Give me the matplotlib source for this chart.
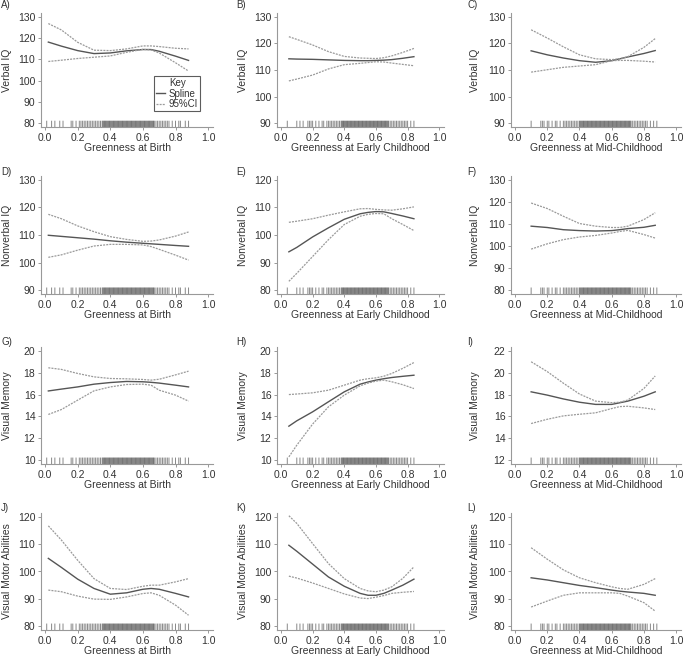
import numpy as np
import matplotlib.pyplot as plt

plt.rcParams['font.family'] = ['Liberation Sans', 'DejaVu Sans']

# greenness grids (one per exposure window)
x_birth = [0.02, 0.1, 0.2, 0.3, 0.4, 0.5, 0.6, 0.65, 0.7, 0.8, 0.88]
x_early = [0.05, 0.1, 0.2, 0.3, 0.4, 0.5, 0.55, 0.6, 0.65, 0.7, 0.77, 0.84]
x_mid = [0.1, 0.2, 0.3, 0.4, 0.5, 0.6, 0.65, 0.7, 0.8, 0.87]

# A) Verbal IQ - birth
a_fit = [118.1, 116.2, 114.1, 112.7, 113.0, 114.0, 114.6, 114.6, 113.8, 111.5, 109.5]
a_hi = [126.8, 123.8, 118.0, 114.3, 114.1, 114.9, 116.3, 116.3, 116.0, 115.2, 114.9]
a_lo = [109.0, 109.6, 110.4, 111.0, 111.6, 113.3, 114.7, 114.4, 113.0, 108.4, 104.5]
# B) Verbal IQ - early childhood
b_fit = [114.2, 114.1, 114.0, 113.8, 113.6, 113.5, 113.5, 113.6, 113.7, 113.9, 114.4, 115.0]
b_hi = [122.5, 121.5, 119.4, 116.9, 115.1, 114.5, 114.4, 114.3, 114.6, 115.3, 116.6, 118.1]
b_lo = [105.9, 106.6, 108.1, 110.4, 112.0, 112.5, 112.8, 113.1, 113.0, 112.6, 112.1, 111.6]
# C) Verbal IQ - mid-childhood
c_fit = [117.2, 115.7, 114.5, 113.5, 112.9, 113.5, 114.2, 114.9, 116.2, 117.3]
c_hi = [125.1, 122.0, 118.7, 115.7, 114.2, 113.9, 114.2, 115.0, 118.5, 121.8]
c_lo = [109.2, 110.1, 111.0, 111.5, 112.0, 113.5, 113.6, 113.6, 113.3, 113.0]
# D) Nonverbal IQ - birth
d_fit = [109.9, 109.5, 109.0, 108.5, 107.9, 107.4, 107.0, 106.8, 106.6, 106.2, 105.9]
d_hi = [117.5, 115.9, 113.3, 111.2, 109.4, 108.4, 107.7, 107.8, 108.2, 109.6, 111.1]
d_lo = [101.9, 102.8, 104.5, 106.0, 106.6, 106.6, 106.4, 105.8, 104.8, 102.7, 100.9]
# E) Nonverbal IQ - early childhood
e_fit = [93.9, 95.5, 99.3, 102.6, 105.7, 107.7, 108.2, 108.5, 108.4, 107.8, 106.9, 105.9]
e_hi = [104.6, 105.0, 105.9, 107.2, 108.4, 109.5, 109.6, 109.3, 109.1, 109.0, 109.5, 110.2]
e_lo = [83.2, 86.1, 92.2, 98.3, 103.8, 106.8, 107.5, 107.8, 107.7, 105.9, 103.8, 101.6]
# F) Nonverbal IQ - mid-childhood
f_fit = [109.0, 108.4, 107.4, 107.0, 106.8, 107.0, 107.4, 107.9, 108.5, 109.4]
f_hi = [119.5, 117.0, 113.5, 110.2, 109.0, 108.4, 108.4, 109.0, 112.0, 115.1]
f_lo = [98.6, 101.0, 102.9, 104.1, 104.8, 105.9, 106.6, 107.1, 105.2, 103.6]
# G) Visual memory - birth
g_fit = [16.33, 16.5, 16.7, 16.95, 17.1, 17.2, 17.17, 17.12, 17.05, 16.86, 16.7]
g_hi = [18.45, 18.3, 17.93, 17.62, 17.47, 17.44, 17.38, 17.32, 17.4, 17.8, 18.14]
g_lo = [14.18, 14.63, 15.49, 16.34, 16.7, 16.92, 16.95, 16.86, 16.4, 15.95, 15.4]
# H) Visual memory - early childhood
h_fit = [13.11, 13.6, 14.42, 15.34, 16.25, 16.95, 17.15, 17.32, 17.45, 17.56, 17.67, 17.77]
h_hi = [16.0, 16.05, 16.16, 16.4, 16.86, 17.32, 17.45, 17.53, 17.68, 17.93, 18.4, 18.93]
h_lo = [10.3, 11.37, 13.3, 14.88, 15.95, 16.8, 17.05, 17.23, 17.32, 17.17, 16.9, 16.55]
# I) Visual memory - mid-childhood
i_fit = [18.25, 17.95, 17.6, 17.3, 17.1, 17.1, 17.25, 17.4, 17.85, 18.25]
i_hi = [21.0, 20.1, 19.04, 18.05, 17.4, 17.26, 17.3, 17.5, 18.56, 19.7]
i_lo = [15.35, 15.74, 16.05, 16.2, 16.33, 16.72, 16.9, 16.93, 16.78, 16.63]
# J) Visual motor - birth
j_fit = [104.8, 101.5, 97.2, 93.8, 91.7, 92.2, 93.5, 93.8, 93.5, 92.0, 90.7]
j_hi = [116.7, 111.5, 104.1, 97.4, 93.8, 93.4, 94.6, 95.0, 95.0, 96.2, 97.4]
j_lo = [93.2, 92.6, 91.0, 89.9, 89.8, 90.7, 91.95, 92.2, 91.3, 87.7, 84.0]
# K) Visual motor - early childhood
k_fit = [109.6, 107.4, 102.7, 98.0, 94.6, 92.0, 91.3, 91.3, 92.0, 93.2, 95.0, 97.2]
k_hi = [120.4, 117.6, 110.2, 102.9, 97.4, 93.8, 92.9, 92.6, 93.2, 94.4, 97.5, 101.7]
k_lo = [98.3, 97.6, 95.8, 93.8, 91.8, 90.3, 90.1, 90.6, 91.2, 92.0, 92.4, 92.7]
# L) Visual motor - mid-childhood
l_fit = [97.7, 96.9, 95.9, 94.9, 94.1, 93.2, 92.8, 92.5, 92.0, 91.3]
l_hi = [108.7, 104.5, 100.6, 97.7, 95.9, 94.4, 93.8, 93.5, 95.3, 97.4]
l_lo = [87.0, 89.2, 91.3, 92.2, 92.2, 92.2, 92.0, 91.0, 88.6, 85.5]

# observed greenness (rug)
birth_rug = [0.01, 0.04, 0.06, 0.09, 0.11, 0.16, 0.17, 0.19, 0.21, 0.22, 0.23,
             0.24, 0.25, 0.26, 0.27, 0.28, 0.29, 0.30, 0.31, 0.32, 0.33, 0.34,
             0.35, 0.355, 0.36, 0.365, 0.37, 0.375, 0.38, 0.385, 0.39, 0.395,
             0.40, 0.405, 0.41, 0.415, 0.42, 0.425, 0.43, 0.435, 0.44, 0.445,
             0.45, 0.455, 0.46, 0.465, 0.47, 0.475, 0.48, 0.485, 0.49, 0.495,
             0.50, 0.505, 0.51, 0.515, 0.52, 0.525, 0.53, 0.535, 0.54, 0.545,
             0.55, 0.555, 0.56, 0.565, 0.57, 0.575, 0.58, 0.585, 0.59, 0.595,
             0.60, 0.605, 0.61, 0.615, 0.62, 0.625, 0.63, 0.635, 0.64, 0.645,
             0.65, 0.655, 0.66, 0.665, 0.67, 0.68, 0.69, 0.70, 0.71, 0.72,
             0.73, 0.74, 0.75, 0.76, 0.78, 0.80, 0.82, 0.83, 0.86, 0.88]
early_rug = [0.04, 0.10, 0.12, 0.14, 0.17, 0.18, 0.19, 0.20, 0.22, 0.24, 0.26,
             0.27, 0.29, 0.30, 0.31, 0.32, 0.33, 0.34, 0.35, 0.36, 0.37,
             0.38, 0.385, 0.39, 0.395, 0.40, 0.405, 0.41, 0.415, 0.42, 0.425,
             0.43, 0.435, 0.44, 0.445, 0.45, 0.455, 0.46, 0.465, 0.47, 0.475,
             0.48, 0.485, 0.49, 0.495, 0.50, 0.505, 0.51, 0.515, 0.52, 0.525,
             0.53, 0.535, 0.54, 0.545, 0.55, 0.555, 0.56, 0.565, 0.57, 0.575,
             0.58, 0.585, 0.59, 0.595, 0.60, 0.605, 0.61, 0.615, 0.62, 0.625,
             0.63, 0.635, 0.64, 0.645, 0.65, 0.655, 0.66, 0.665, 0.67, 0.675,
             0.68, 0.69, 0.70, 0.71, 0.72, 0.73, 0.74, 0.75, 0.76, 0.77,
             0.78, 0.79, 0.80, 0.82, 0.84]
mid_rug = [0.10, 0.16, 0.17, 0.18, 0.20, 0.21, 0.23, 0.25, 0.26, 0.28, 0.30,
           0.31, 0.32, 0.33, 0.34, 0.35, 0.36, 0.37, 0.38, 0.39,
           0.40, 0.405, 0.41, 0.415, 0.42, 0.425, 0.43, 0.435, 0.44, 0.445,
           0.45, 0.455, 0.46, 0.465, 0.47, 0.475, 0.48, 0.485, 0.49, 0.495,
           0.50, 0.505, 0.51, 0.515, 0.52, 0.525, 0.53, 0.535, 0.54, 0.545,
           0.55, 0.555, 0.56, 0.565, 0.57, 0.575, 0.58, 0.585, 0.59, 0.595,
           0.60, 0.605, 0.61, 0.615, 0.62, 0.625, 0.63, 0.635, 0.64, 0.645,
           0.65, 0.655, 0.66, 0.665, 0.67, 0.675, 0.68, 0.685, 0.69, 0.695,
           0.70, 0.705, 0.71, 0.715, 0.72, 0.73, 0.74, 0.75, 0.76, 0.77,
           0.78, 0.79, 0.80, 0.81, 0.82, 0.84, 0.86, 0.88]

xlabels = ['Greenness at Birth', 'Greenness at Early Childhood', 'Greenness at Mid-Childhood']
ylabels = ['Verbal IQ', 'Nonverbal IQ', 'Visual Memory', 'Visual Motor Abilities']
letters = ['A)', 'B)', 'C)', 'D)', 'E)', 'F)', 'G)', 'H)', 'I)', 'J)', 'K)', 'L)']
xgrids = [x_birth, x_early, x_mid]
rugs = [birth_rug, early_rug, mid_rug]

panels = [
    [(a_fit, a_lo, a_hi, 80, 130, 10), (b_fit, b_lo, b_hi, 90, 130, 10), (c_fit, c_lo, c_hi, 90, 130, 10)],
    [(d_fit, d_lo, d_hi, 90, 130, 10), (e_fit, e_lo, e_hi, 80, 120, 10), (f_fit, f_lo, f_hi, 80, 130, 10)],
    [(g_fit, g_lo, g_hi, 10, 20, 2), (h_fit, h_lo, h_hi, 10, 20, 2), (i_fit, i_lo, i_hi, 12, 22, 2)],
    [(j_fit, j_lo, j_hi, 80, 120, 10), (k_fit, k_lo, k_hi, 80, 120, 10), (l_fit, l_lo, l_hi, 80, 120, 10)],
]

W, H = 683, 656
col_left = [41, 277, 511]
col_width = [172, 167, 170]
row_top = [13, 176, 347, 513]
row_bot = [127, 294, 464, 630]
letter_x = [1, 236, 467]
letter_y = [5, 172, 342, 508]
ylab_x = [-0.169, -0.174, -0.18]

fit_col = '#555555'
ci_col = '#9a9a9a'
axis_col = '#999999'
text_col = '#333333'

fig = plt.figure(figsize=(W / 100, H / 100), dpi=100)
fig.patch.set_facecolor('white')

for r in range(4):
    for c in range(3):
        fit, lo, hi, y0, y1, step = panels[r][c]
        xs = xgrids[c]
        ax = fig.add_axes([col_left[c] / W, 1 - row_bot[r] / H,
                           col_width[c] / W, (row_bot[r] - row_top[r]) / H])
        pad = 0.035 * (y1 - y0)
        ax.set_ylim(y0 - pad, y1 + pad)
        ax.set_xlim(-0.025, 1.03)

        ax.vlines(rugs[c], 0, 0.055, transform=ax.get_xaxis_transform(),
                  color='#111111', lw=0.7, alpha=0.5, snap=False)
        l1, = ax.plot(xs, fit, color=fit_col, lw=1.0)
        l2, = ax.plot(xs, hi, color=ci_col, lw=0.9, ls=(0, (1.6, 0.9)))
        ax.plot(xs, lo, color=ci_col, lw=0.9, ls=(0, (1.6, 0.9)))

        ax.set_xticks([0.0, 0.2, 0.4, 0.6, 0.8, 1.0])
        ax.set_xticklabels(['0.0', '0.2', '0.4', '0.6', '0.8', '1.0'])
        ax.set_yticks(np.arange(y0, y1 + step / 2, step))
        for s in ['top', 'right']:
            ax.spines[s].set_visible(False)
        for s in ['left', 'bottom']:
            ax.spines[s].set_color(axis_col)
            ax.spines[s].set_linewidth(0.8)
        ax.tick_params(colors=axis_col, labelcolor=text_col, labelsize=7.5,
                       length=2.5, width=0.7, pad=1.5)
        ax.set_xlabel(xlabels[c], fontsize=7.5, color=text_col, labelpad=0.5)
        ax.set_ylabel(ylabels[r], fontsize=7.5, color=text_col)
        ax.yaxis.set_label_coords(ylab_x[c], 0.5)

        fig.text(letter_x[c] / W, 1 - letter_y[r] / H, letters[r * 3 + c],
                 fontsize=7, color=text_col, va='center', ha='left')

        if r == 0 and c == 0:
            leg = ax.legend([l1, l2], ['Spline', '95%CI'], title='Key',
                            loc='upper right', bbox_to_anchor=(0.925, 0.445),
                            fontsize=7, title_fontsize=7, frameon=True,
                            fancybox=False, handlelength=0.9, handletextpad=0.4,
                            borderpad=0.2, labelspacing=0.05, borderaxespad=0)
            leg.get_frame().set_edgecolor('#333333')
            leg.get_frame().set_linewidth(0.8)
            for t in leg.get_texts():
                t.set_color(text_col)
            leg.get_title().set_color(text_col)

fig.savefig('out.png', dpi=100, facecolor='white')
